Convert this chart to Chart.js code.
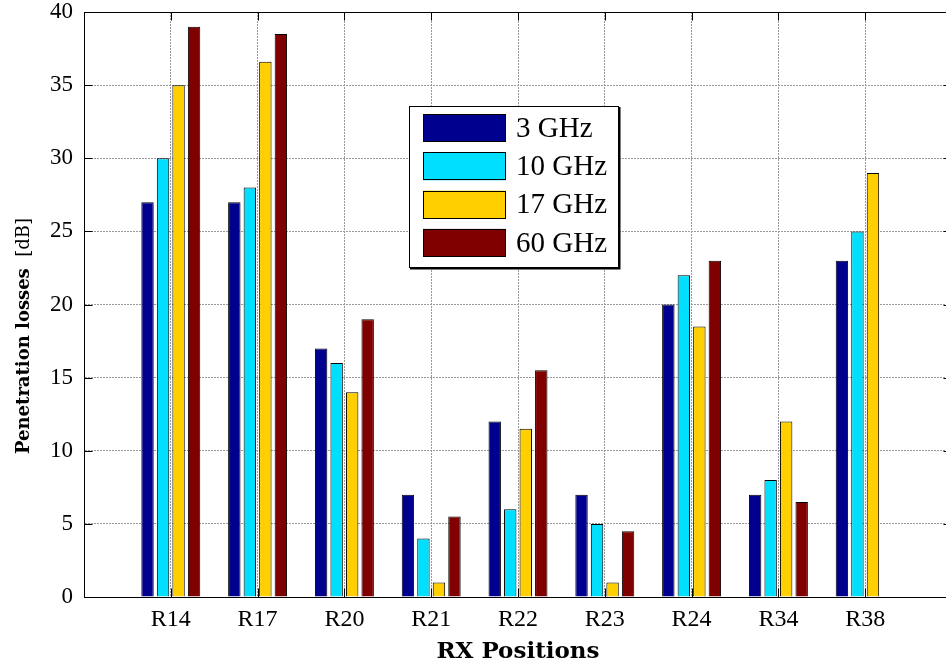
<!DOCTYPE html>
<html lang="pt-BR">
<head>
<meta charset="utf-8">
<title>Perdas de penetração</title>
<script src="https://cdn.jsdelivr.net/npm/chart.js@4.4.1/dist/chart.umd.min.js"></script>
<style>
  html, body { margin: 0; padding: 0; background: #fff; overflow: hidden; }
  #caixa { width: 960px; height: 666px; }
</style>
</head>
<body>
<div id="caixa"><canvas id="graficoPerdas" width="960" height="666"></canvas></div>
<script>
// Posições de recepção (eixo X)
const posicoes = ['R14', 'R17', 'R20', 'R21', 'R22', 'R23', 'R24', 'R34', 'R38'];
// Uma série por frequência
const frequencias = ['3 GHz', '10 GHz', '17 GHz', '60 GHz'];
// Perdas de penetração em dB
const perdas3 = [27, 27, 17, 7, 12, 7, 20, 7, 23];
const perdas10 = [30, 28, 16, 4, 6, 5, 22, 8, 25];
const perdas17 = [35, 36.6, 14, 1, 11.5, 1, 18.5, 12, 29];
const perdas60 = [39, 38.5, 19, 5.5, 15.5, 4.5, 23, 6.5, null];
// Limites e passo do eixo Y
const yMin = 0, yMax = 40, yPasso = 5;

const cores = ['#00008f', '#00dfff', '#ffcf00', '#800000'];
const series = [perdas3, perdas10, perdas17, perdas60];

// Cada barra vai na posição 1..9 de um eixo linear de 0 a 10
function montarDataset(valores, i) {
  return {
    label: frequencias[i],
    data: valores.map((v, k) => ({ x: k + 1, y: v })),
    backgroundColor: cores[i],
    borderColor: '#000',
    borderWidth: 1,
    categoryPercentage: 0.715,
    barPercentage: 0.8
  };
}

// Marcas internas e bordas de cima/direita, no estilo do MATLAB
const molduraEixos = {
  id: 'molduraEixos',
  afterDatasetsDraw(chart) {
    const { ctx, chartArea: a, scales } = chart;
    const tam = 8.5;
    ctx.save();
    ctx.strokeStyle = '#000';
    ctx.lineWidth = 1;
    ctx.beginPath();
    scales.y.ticks.forEach(t => {
      const y = Math.round(scales.y.getPixelForValue(t.value)) + 0.5;
      ctx.moveTo(a.left, y); ctx.lineTo(a.left + tam, y);
      ctx.moveTo(a.right, y); ctx.lineTo(a.right - tam, y);
    });
    scales.x.ticks.forEach(t => {
      if (t.value < 1 || t.value > posicoes.length) return;
      const x = Math.round(scales.x.getPixelForValue(t.value)) + 0.5;
      ctx.moveTo(x, a.bottom); ctx.lineTo(x, a.bottom - tam);
      ctx.moveTo(x, a.top); ctx.lineTo(x, a.top + tam);
    });
    // bordas de cima e da direita
    const topo = Math.round(a.top) + 0.5;
    const dir = Math.round(a.right) + 0.5;
    ctx.moveTo(a.left, topo); ctx.lineTo(dir, topo);
    ctx.moveTo(dir, topo); ctx.lineTo(dir, a.bottom);
    ctx.stroke();
    ctx.restore();
  }
};

// Título do eixo Y com parte em negrito e unidade em fonte normal
const tituloY = {
  id: 'tituloY',
  afterDraw(chart) {
    const ctx = chart.ctx;
    const negrito = 'bold 18px "DejaVu Serif"';
    const normal = '18px "DejaVu Serif"';
    const parte1 = 'Penetration losses';
    const parte2 = '  [dB]';
    ctx.save();
    ctx.font = negrito;
    const w1 = ctx.measureText(parte1).width;
    ctx.font = normal;
    const w2 = ctx.measureText(parte2).width;
    ctx.translate(24, 336);
    ctx.rotate(-Math.PI / 2);
    ctx.textBaseline = 'middle';
    ctx.textAlign = 'left';
    ctx.fillStyle = '#000';
    const x = -(w1 + w2) / 2;
    ctx.font = negrito;
    ctx.fillText(parte1, x, 0);
    ctx.font = normal;
    ctx.fillText(parte2, x + w1, 0);
    ctx.restore();
  }
};

// Legenda em caixa dentro da área do gráfico
const legendaInterna = {
  id: 'legendaInterna',
  afterDraw(chart) {
    const ctx = chart.ctx;
    const x0 = 409, y0 = 106, larg = 209, alt = 161;
    ctx.save();
    ctx.fillStyle = '#000';
    ctx.fillRect(x0 + 1, y0 + 1, larg + 1.5, alt + 1.5);
    ctx.fillStyle = '#fff';
    ctx.fillRect(x0, y0, larg, alt);
    ctx.strokeStyle = '#000';
    ctx.lineWidth = 1;
    ctx.strokeRect(x0 + 0.5, y0 + 0.5, larg, alt);
    ctx.font = '29px "Liberation Serif"';
    ctx.textBaseline = 'middle';
    ctx.textAlign = 'left';
    chart.data.datasets.forEach((ds, i) => {
      const yy = y0 + 8 + i * 38.3;
      ctx.fillStyle = ds.backgroundColor;
      ctx.fillRect(x0 + 14, yy, 83, 28);
      ctx.strokeRect(x0 + 14.5, Math.round(yy) + 0.5, 82, 27);
      ctx.fillStyle = '#000';
      ctx.fillText(ds.label, x0 + 107, yy + 15);
    });
    ctx.restore();
  }
};

function montarGrafico() {
  const ctx = document.getElementById('graficoPerdas').getContext('2d');
  const corGrade = '#9a9a9a';

  new Chart(ctx, {
    type: 'bar',
    data: { datasets: series.map(montarDataset) },
    plugins: [molduraEixos, tituloY, legendaInterna],
    options: {
      responsive: false,
      animation: false,
      layout: { padding: { left: 44, right: 8, top: 12, bottom: 0 } },
      plugins: {
        legend: { display: false },
        tooltip: { enabled: false }
      },
      scales: {
        x: {
          type: 'linear',
          min: 0,
          max: posicoes.length + 1,
          offset: false,
          afterFit(scale) {
            scale.height = 69;
            scale.paddingLeft = 0;
            scale.paddingRight = 0;
          },
          grid: {
            offset: false,
            drawTicks: false,
            color: corGrade,
            lineWidth: 1
          },
          border: { display: true, color: '#000', width: 1, dash: [2, 1] },
          ticks: {
            stepSize: 1,
            autoSkip: false,
            maxRotation: 0,
            padding: 11,
            color: '#000',
            font: { family: 'Liberation Serif', size: 24, lineHeight: 1 },
            callback: v => posicoes[v - 1] || ''
          },
          title: {
            display: true,
            text: 'RX Positions',
            color: '#000',
            padding: { top: 0, bottom: 0 },
            font: { family: 'DejaVu Serif', size: 23, weight: 'bold' }
          }
        },
        y: {
          min: yMin,
          max: yMax,
          afterFit(scale) {
            // largura fixa e sem folga extra acima/abaixo do eixo
            scale.width = 40;
            scale.paddingTop = 0;
            scale.paddingBottom = 0;
          },
          grid: {
            drawTicks: false,
            color: corGrade,
            lineWidth: 1
          },
          border: { display: true, color: '#000', width: 1, dash: [2, 1] },
          ticks: {
            stepSize: yPasso,
            padding: 11,
            color: '#000',
            font: { family: 'Liberation Serif', size: 23, lineHeight: 1 }
          }
        }
      }
    }
  });
}

montarGrafico();
</script>
</body>
</html>
